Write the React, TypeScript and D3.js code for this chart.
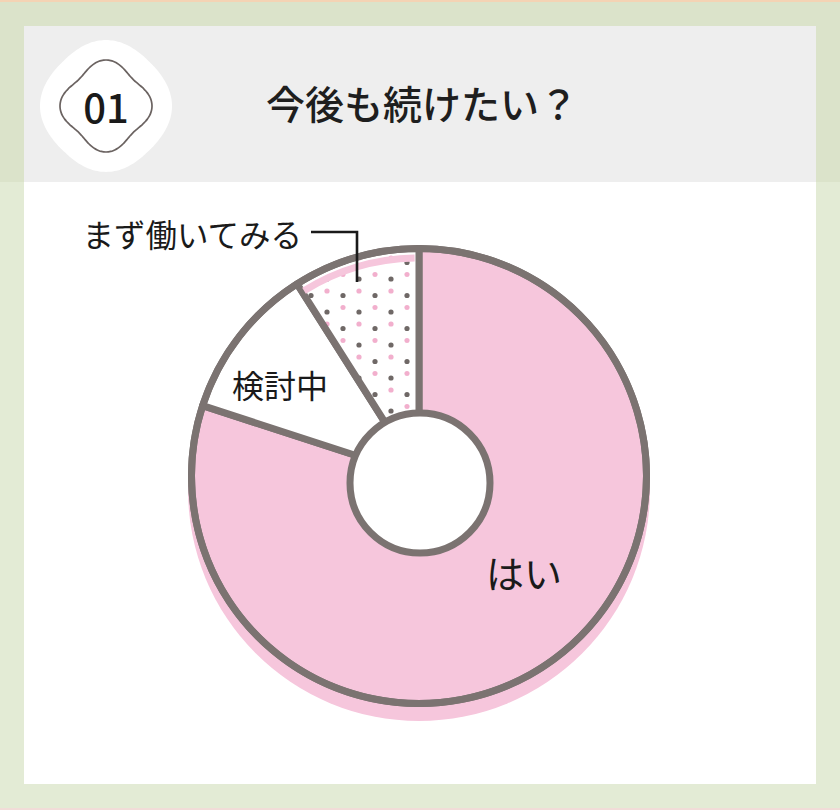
import * as d3 from "d3";

// 回答の内訳（%）
const categories = ["はい", "検討中", "まず働いてみる"];
const values = [80, 11, 9];
const title = "今後も続けたい？";
const badgeLabel = "01";

const W = 840;
const H = 810;
const cx = 419;
const cy = 476;
const R = 227.5;
const holeCx = 420;
const holeCy = 483;
const holeR = 70;

const pink = "#f6c6dc";
const grey = "#7b7371";
const font = "'Noto Sans CJK JP', 'Noto Sans', sans-serif";

const fills = [pink, "#ffffff", "url(#dots)"];

// badge outline: 4 soft lobes
const wavy = (base: number, amp: number) => {
  const angles = d3.range(0, 360, 3).map((d) => (d * Math.PI) / 180);
  return d3
    .lineRadial<number>()
    .angle((a) => a)
    .radius((a) => base + amp * Math.cos(4 * a))
    .curve(d3.curveCardinalClosed)(angles) as string;
};

export default function App() {
  const slices = d3
    .pie<number>()
    .sort(null)
    .value((d) => d)(values);

  const arc = d3
    .arc<d3.PieArcDatum<number>>()
    .innerRadius(0)
    .outerRadius(R);

  const dotted = slices[2];
  const band = d3
    .arc()
    .innerRadius(R - 13)
    .outerRadius(R - 6)
    .startAngle(dotted.startAngle + 0.01)
    .endAngle(dotted.endAngle - 0.02)({} as any) as string;

  const labelPos = [
    { x: 524, y: 571, size: 38 },
    { x: 280, y: 384, size: 32 },
    { x: 302, y: 233, size: 31.5 },
  ];

  return (
    <svg
      width={W}
      height={H}
      viewBox={`0 0 ${W} ${H}`}
      style={{ position: "absolute", left: 0, top: 0, display: "block" }}
    >
      <defs>
        <pattern
          id="dots"
          patternUnits="userSpaceOnUse"
          x={348}
          y={294}
          width={32}
          height={33}
        >
          <rect width={32} height={33} fill="#fff" />
          <circle cx={8} cy={4} r={2.6} fill="#6f6866" />
          <circle cx={8} cy={16} r={2.6} fill="#f2afcd" />
          <circle cx={24} cy={20.5} r={2.6} fill="#6f6866" />
          <circle cx={24} cy={32.5} r={2.6} fill="#f2afcd" />
          <circle cx={24} cy={-0.5} r={2.6} fill="#f2afcd" />
        </pattern>
      </defs>

      {/* page background */}
      <rect width={W} height={H} fill="#e3ebd5" />
      <rect width={W} height={182} fill="#dbe3ca" />
      <rect width={W} height={2} fill="#f4d3b4" />
      <rect y={H - 2} width={W} height={2} fill="#f1dcd8" />

      {/* card */}
      <rect x={24} y={26} width={792} height={758} fill="#ffffff" />
      <rect x={24} y={26} width={792} height={156} fill="#eeeeee" />

      {/* badge */}
      <path d={wavy(64, 2)} transform="translate(106,106)" fill="#ffffff" />
      <path
        d={wavy(42, 4)}
        transform="translate(106,106)"
        fill="#ffffff"
        stroke="#6b6361"
        strokeWidth={1.7}
      />
      <text
        x={106}
        y={106}
        textAnchor="middle"
        dominantBaseline="central"
        fontFamily={font}
        fontSize={40}
        fontWeight={500}
        fill="#1a1a1a"
      >
        {badgeLabel}
      </text>

      <text
        x={266}
        y={102}
        dominantBaseline="central"
        fontFamily={font}
        fontSize={39}
        fontWeight={500}
        fill="#1e1e1e"
      >
        {title}
      </text>

      {/* donut */}
      <circle cx={cx} cy={cy + 14} r={R + 3.5} fill={pink} />
      <g transform={`translate(${cx},${cy})`}>
        {slices.map((s, i) => (
          <path
            key={categories[i]}
            d={arc(s) as string}
            fill={fills[i]}
            stroke={grey}
            strokeWidth={7}
            strokeLinejoin="round"
          />
        ))}
        <path d={band} fill={pink} />
        <circle r={R} fill="none" stroke={grey} strokeWidth={7} />
      </g>
      <circle
        cx={holeCx}
        cy={holeCy}
        r={holeR}
        fill="#ffffff"
        stroke={grey}
        strokeWidth={7}
      />

      {/* leader for the small slice */}
      <polyline
        points="311,232 357,232 357,282"
        fill="none"
        stroke="#1a1a1a"
        strokeWidth={2.6}
      />

      {categories.map((c, i) => (
        <text
          key={c}
          x={labelPos[i].x}
          y={labelPos[i].y}
          textAnchor={i === 2 ? "end" : "middle"}
          dominantBaseline="central"
          fontFamily={font}
          fontSize={labelPos[i].size}
          fill="#1a1a1a"
        >
          {c}
        </text>
      ))}
    </svg>
  );
}
